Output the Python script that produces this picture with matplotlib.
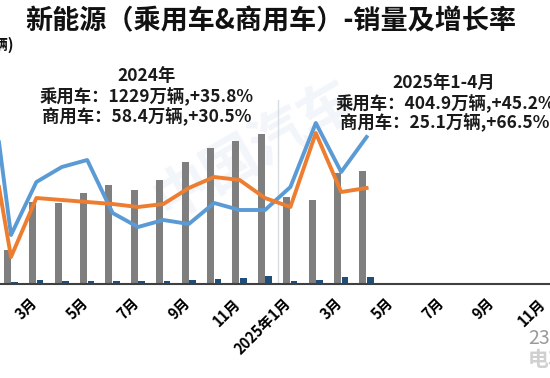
"""新能源（乘用车&商用车）- 销量及增长率, recreated."""
import matplotlib
matplotlib.use("Agg")
import matplotlib.pyplot as plt
from matplotlib.transforms import ScaledTranslation

plt.rcParams["font.family"] = ["Noto Sans CJK SC", "DejaVu Sans"]
plt.rcParams["axes.unicode_minus"] = False

# month slots on the axis (2024-01 .. 2025-12)
tick_labels = ["2024年1月", "3月", "5月", "7月", "9月", "11月",
               "2025年1月", "3月", "5月", "7月", "9月", "11月"]
# data 2024-01 .. 2025-04
passenger = [67, 34, 82, 81, 91, 99, 94, 104, 122, 136, 143, 150, 87, 84, 111, 113]   # 万辆
commercial = [3, 2, 4.5, 3.5, 3.5, 3.5, 3, 3.5, 4.5, 5, 6, 8, 3.5, 4.5, 7, 7.5]       # 万辆
growth_blue = [185, -11, 42, 57, 64, 11, -3, 4, 0, 21, 14, 14, 37, 101, 52, 87]       # %
growth_orange = [115, -33, 26, 24, 22, 20, 17, 20, 36, 47, 44, 26, 17, 91, 32, 36]    # %

GRAY = "#7F7F7F"
NAVY = "#1F4E79"
BLUE = "#5B9BD5"
ORANGE = "#ED7D31"

W, H = 550, 378
fig = plt.figure(figsize=(W / 100, H / 100), dpi=100, facecolor="white")

# chart area is wider than the picture (cropped screenshot)
step = 25.4
left_px = 11 - 1.5 * step
ax = fig.add_axes([left_px / W, (H - 284) / H, 24 * step / W, 184 / H])
ax.patch.set_visible(False)

x = list(range(len(passenger)))
ax.bar([i - 0.145 for i in x], passenger, width=0.28, color=GRAY, zorder=2)
ax.bar([i + 0.145 for i in x], commercial, width=0.26, color=NAVY, zorder=2)
ax.axvline(11.5, color="#D6DCE4", lw=1, zorder=1)

ax.set_xlim(-0.5, 23.5)
ax.set_ylim(0, 184)
ax.set_yticks([])
ax.set_xticks(range(0, 24, 2))
ax.set_xticklabels(tick_labels, rotation=45, ha="right", fontsize=10.5,
                   fontweight="bold")
ax.tick_params(axis="x", length=0, pad=8)
shift = ScaledTranslation(4 / 100, 0, fig.dpi_scale_trans)
for lab in ax.get_xticklabels():
    lab.set_transform(lab.get_transform() + shift)
for s in ["top", "left", "right"]:
    ax.spines[s].set_visible(False)
ax.spines["bottom"].set_color("#404040")
ax.spines["bottom"].set_linewidth(1.5)

ax2 = ax.twinx()
ax2.plot(x, growth_blue, color=BLUE, lw=2.8, zorder=3)
ax2.plot(x, growth_orange, color=ORANGE, lw=2.8, zorder=4)
ax2.set_ylim(-60, 124)
ax2.set_yticks([])
for s in ax2.spines.values():
    s.set_visible(False)

# faint watermark
fig.text(255 / W, 1 - 150 / H, "中国汽车", rotation=30, fontsize=40,
         fontweight="bold", color="#F2F5F9", ha="center", va="center", zorder=-1)

fig.text(271 / W, 1 - 21 / H, "新能源（乘用车&商用车）-销量及增长率",
         ha="center", va="center", fontsize=19.5, fontweight="bold", color="#111111")
fig.text(14 / W, 1 - 45 / H, "（万辆)", ha="right", va="center",
         fontsize=11, fontweight="bold", color="#111111")

fig.text(147 / W, 1 - 76 / H, "2024年", ha="center", va="center",
         fontsize=12.5, fontweight="bold", color="#1A1A1A")
fig.text(147 / W, 1 - 97 / H, "乘用车：1229万辆,+35.8%", ha="center", va="center",
         fontsize=12.5, fontweight="bold", color="#1A1A1A")
fig.text(147 / W, 1 - 117 / H, "商用车：58.4万辆,+30.5%", ha="center", va="center",
         fontsize=12.5, fontweight="bold", color="#1A1A1A")

fig.text(444 / W, 1 - 84 / H, "2025年1-4月", ha="center", va="center",
         fontsize=12.5, fontweight="bold", color="#1A1A1A")
fig.text(445 / W, 1 - 104 / H, "乘用车：404.9万辆,+45.2%", ha="center", va="center",
         fontsize=12.5, fontweight="bold", color="#1A1A1A")
fig.text(445 / W, 1 - 123 / H, "商用车：25.1万辆,+66.5%", ha="center", va="center",
         fontsize=12.5, fontweight="bold", color="#1A1A1A")

fig.text(528 / W, 1 - 338 / H, "231", ha="left", va="center",
         fontsize=14, color="#9A9A9A")
fig.text(528 / W, 1 - 359 / H, "电车", ha="left", va="center",
         fontsize=15, fontweight="bold", color="#D0D0D0")

fig.savefig("out.png", dpi=100, facecolor="white")
plt.close(fig)
